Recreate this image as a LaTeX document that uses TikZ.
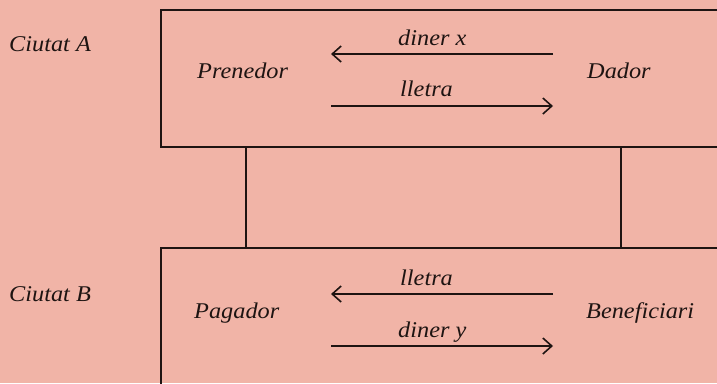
\documentclass[tikz,border=0pt]{standalone}
\usepackage{fontspec}
\setmainfont{Liberation Serif}[FakeStretch=1.08]
\usetikzlibrary{arrows.meta}
\definecolor{bg}{HTML}{F1B4A7}
\definecolor{ink}{HTML}{1E1412}
\tikzset{
  lbl/.style={font=\fontsize{22.5}{26}\selectfont\itshape, text=ink, anchor=base west, inner sep=0pt},
  frame/.style={draw=ink, line width=2.1pt},
  flow/.style={draw=ink, line width=1.6pt, -{Straight Barb[length=9pt,width=16pt,line width=1.6pt]}}
}
\begin{document}
\begin{tikzpicture}[x=1pt,y=-1pt]
\useasboundingbox (0,0) rectangle (717,383);
\fill[bg] (0,0) rectangle (717,383);
\clip (0,0) rectangle (717,383);
% boxes
\draw[frame] (161,10) rectangle (730,147);
\draw[frame] (161,248) rectangle (730,395);
\coordinate (t1) at (246,147); \coordinate (b1) at (246,248);
\coordinate (t2) at (621,147); \coordinate (b2) at (621,248);
\draw[frame] (t1) -- (b1);
\draw[frame] (t2) -- (b2);
% texts
\node[lbl] (ca) at (9,51) {Ciutat A};
\node[lbl] (cb) at (9,301) {Ciutat B};
\node[lbl] (pren) at (197,78) {Prenedor};
\node[lbl] (dad) at (587,78) {Dador};
\node[lbl] (pag) at (194,318) {Pagador};
\node[lbl] (ben) at (586,318) {Beneficiari};
% arrows top
\coordinate (a1r) at (553,54); \coordinate (a1l) at (331,54);
\coordinate (a2l) at (331,106); \coordinate (a2r) at (553,106);
\draw[flow] (a1r) -- (a1l);
\draw[flow] (a2l) -- (a2r);
\node[lbl] (dx) at (398,45) {diner x};
\node[lbl] (l1) at (400,96) {lletra};
% arrows bottom
\coordinate (b1r) at (553,294); \coordinate (b1l) at (331,294);
\coordinate (b2l) at (331,346); \coordinate (b2r) at (553,346);
\draw[flow] (b1r) -- (b1l);
\draw[flow] (b2l) -- (b2r);
\node[lbl] (l2) at (400,285) {lletra};
\node[lbl] (dy) at (398,337) {diner y};
\end{tikzpicture}
\end{document}
